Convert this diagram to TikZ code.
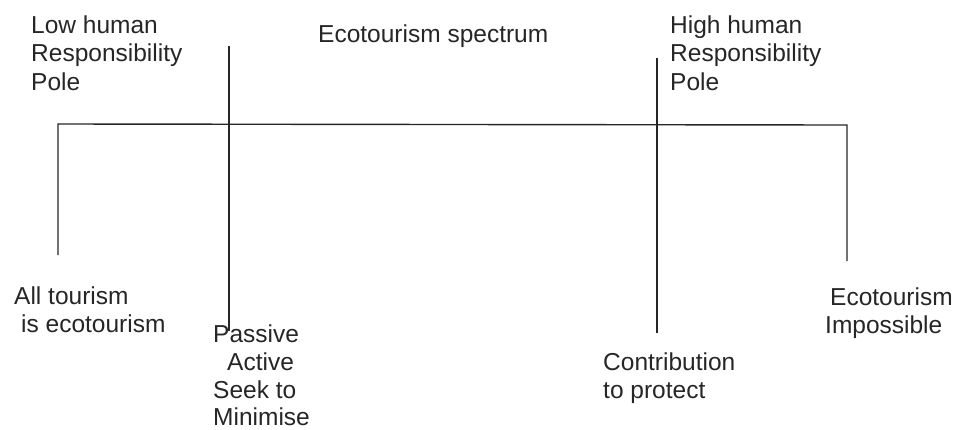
\documentclass[tikz,border=0pt]{standalone}
\usepackage{fontspec}
\setmainfont{Liberation Sans}
\usepackage{tikz}

\tikzset{
  label/.style={anchor=base west, inner sep=0pt, font=\fontsize{24.5}{28.5}\selectfont, text=black!85},
  rule/.style={line width=1.4pt, black!85}
}

\begin{document}
\begin{tikzpicture}[x=1pt, y=-1pt]
      \useasboundingbox (0,0) rectangle (955,429);

      % spectrum frame
      \coordinate (lowend)  at (58,255);
      \coordinate (lowpole) at (58,124);
      \coordinate (highpole) at (847,125);
      \coordinate (highend) at (847,261);
      \draw[rule] (lowend) -- (lowpole) -- (highpole) -- (highend);

      % the two markers
      \coordinate (passtop) at (229,46);
      \coordinate (passbot) at (229,331);
      \coordinate (prottop) at (657,58);
      \coordinate (protbot) at (657,333);
      \draw[rule] (passtop) -- (passbot);
      \draw[rule] (prottop) -- (protbot);

      % top texts
      \node[label] (low1) at (31,33) {Low human};
      \node[label] (low2) at (31,61.5) {Responsibility};
      \node[label] (low3) at (31,90) {Pole};
      \node[label] (title) at (318,42) {Ecotourism spectrum};
      \node[label] (high1) at (670,33) {High human};
      \node[label] (high2) at (670,61.5) {Responsibility};
      \node[label] (high3) at (670,90) {Pole};

      % bottom texts
      \node[label] (all1) at (14,304) {All tourism};
      \node[label] (all2) at (21,332) {is ecotourism};
      \node[label] (pas1) at (213,342) {Passive};
      \node[label] (pas2) at (227,370) {Active};
      \node[label] (pas3) at (213,398) {Seek to};
      \node[label] (pas4) at (213,425.5) {Minimise};
      \node[label] (con1) at (603,370) {Contribution};
      \node[label] (con2) at (603,398.5) {to protect};
      \node[label] (eco1) at (830,305) {Ecotourism};
      \node[label] (eco2) at (825,333) {Impossible};
    \end{tikzpicture}
\end{document}
